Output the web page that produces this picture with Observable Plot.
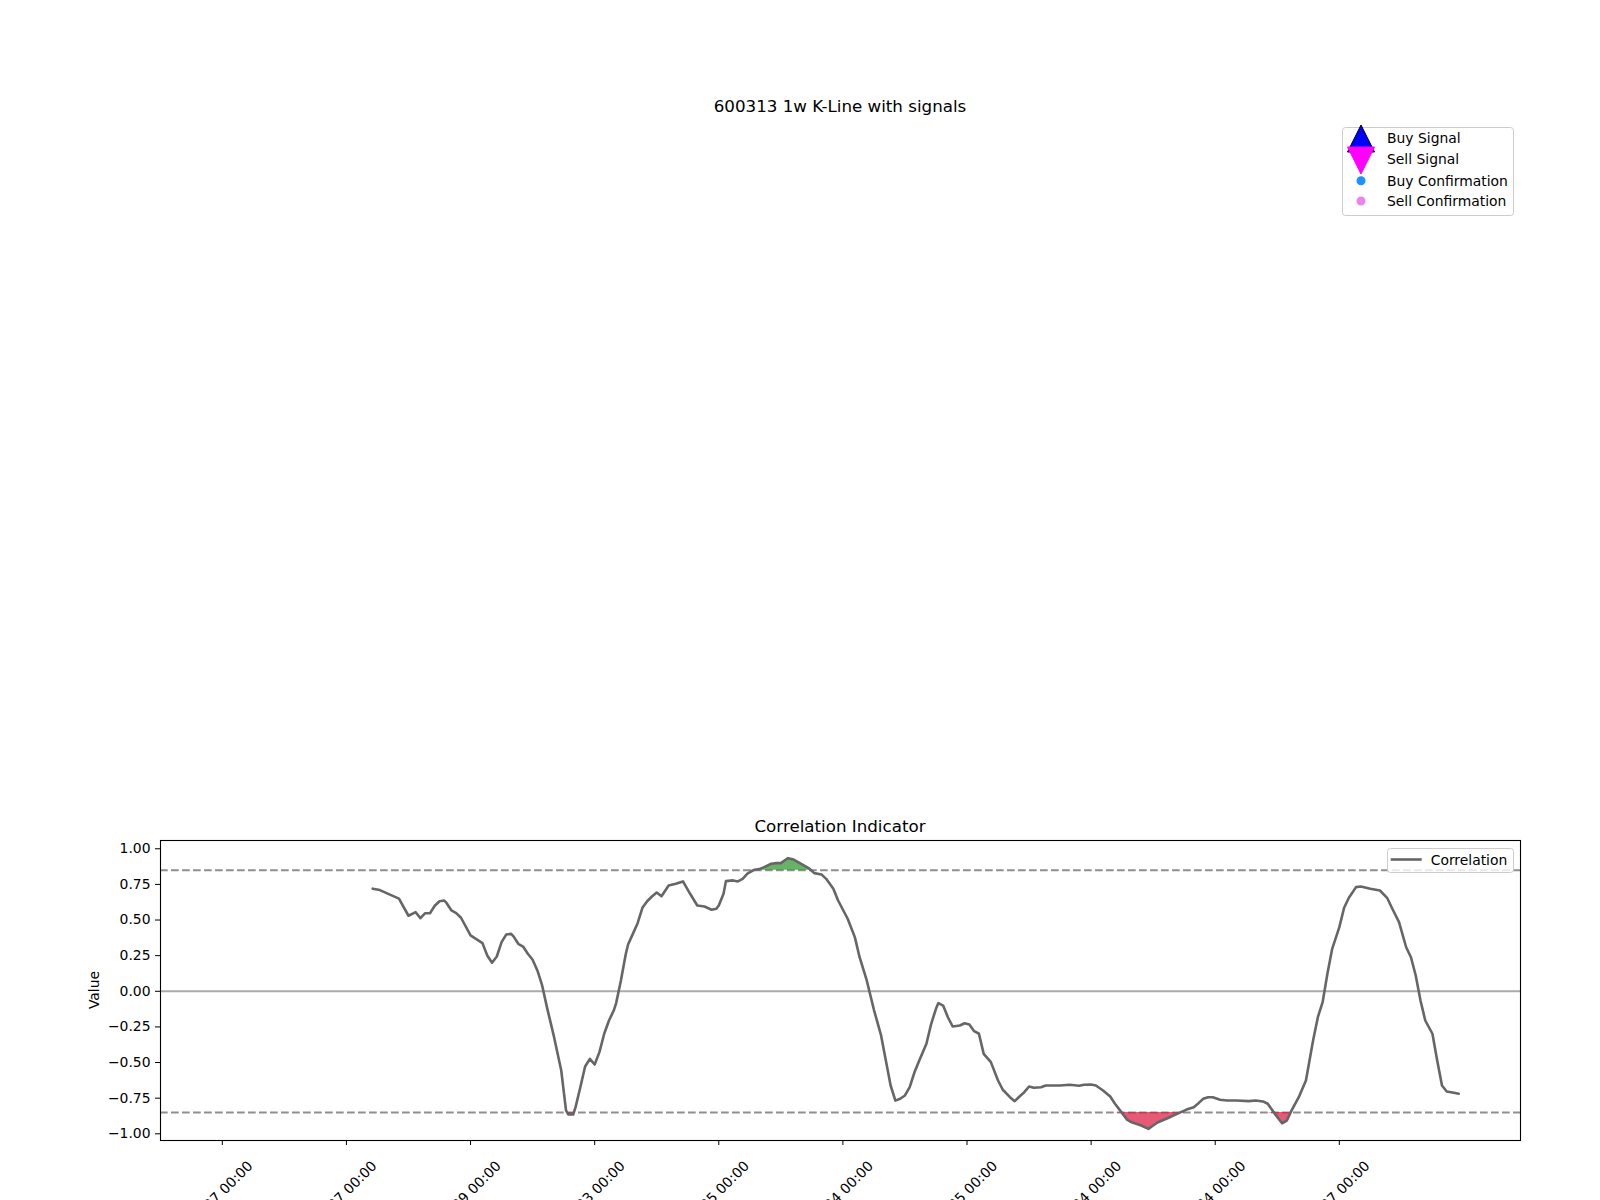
<!DOCTYPE html>
<html>
<head>
<meta charset="utf-8">
<script src="https://cdn.jsdelivr.net/npm/d3@7"></script>
<script src="https://cdn.jsdelivr.net/npm/@observablehq/plot@0.6"></script>
<style>
  html, body { margin: 0; padding: 0; background: #fff; overflow: hidden; }
  #fig { position: relative; width: 1600px; height: 1200px; background: #fff; font-family: "DejaVu Sans", sans-serif; color: #000; overflow: hidden; }
  .title { position: absolute; left: 160px; width: 1360px; text-align: center; font-size: 16.7px; line-height: normal; white-space: nowrap; }
  #plotwrap { position: absolute; left: 0; top: 800px; }
  .abs { position: absolute; overflow: visible; }
  #ylabel { position: absolute; font-size: 13.9px; left: 93.5px; top: 990px; transform: translate(-50%, -50%) rotate(-90deg); white-space: nowrap; }
</style>
</head>
<body>
<div id="fig">
  <div class="title" style="top:95.6px">600313 1w K-Line with signals</div>
  <svg class="abs" id="sigLegend" style="left:1342px; top:127px" width="172" height="89"></svg>
  <div class="title" style="top:816.2px">Correlation Indicator</div>
  <div id="plotwrap"></div>
  <div id="ylabel">Value</div>
  <svg class="abs" id="corrLegend" style="left:1387px; top:848px" width="127" height="25"></svg>
</div>
<script>
// ---- data (bar index, correlation value) ----
const barIndex = [63,66,74,78,81,83,85,87,89,91,93,94,96,98,100,104,109,111,113,115,117,119,121,122,124,126,128,130,132,134,136,139,142,144,145,147,148,150,152,154,156,158,160,162,164,165,167,169,170,172,174,176,178,180,182,184,187,190,193,196,199,202,205,207,208,210,211,214,216,218,220,223,225,227,230,232,234,236,237,239,242,246,248,251,253,256,258,262,265,267,270,273,276,278,280,282,284,286,288,290,292,295,297,299,300,302,304,306,309,311,313,315,317,319,322,325,327,330,332,334,336,338,340,343,345,351,355,359,361,364,366,369,372,374,377,379,381,385,388,390,392,396,400,404,407,409,411,413,415,418,421,425,430,433,436,438,441,444,446,448,451,454,455,457,459,461,463,465,468,470,472,475,477,481,485,488,490,493,496,498,500,502,504,507,509,511,513,516,518];
const correlation = [0.72,0.71,0.65,0.53,0.555,0.513,0.548,0.548,0.60,0.632,0.637,0.618,0.567,0.548,0.516,0.392,0.338,0.251,0.20,0.244,0.345,0.399,0.403,0.385,0.333,0.314,0.263,0.221,0.146,0.041,-0.111,-0.322,-0.556,-0.836,-0.865,-0.865,-0.813,-0.673,-0.528,-0.474,-0.514,-0.427,-0.298,-0.205,-0.135,-0.083,0.076,0.258,0.328,0.403,0.478,0.586,0.632,0.665,0.693,0.667,0.742,0.754,0.771,0.684,0.602,0.595,0.572,0.579,0.602,0.684,0.773,0.778,0.771,0.789,0.825,0.853,0.857,0.871,0.895,0.899,0.899,0.923,0.934,0.927,0.899,0.86,0.829,0.82,0.789,0.719,0.637,0.509,0.38,0.239,0.076,-0.13,-0.31,-0.486,-0.661,-0.767,-0.754,-0.731,-0.673,-0.568,-0.486,-0.368,-0.228,-0.123,-0.083,-0.10,-0.182,-0.247,-0.24,-0.224,-0.233,-0.28,-0.298,-0.439,-0.497,-0.626,-0.691,-0.743,-0.771,-0.738,-0.708,-0.668,-0.677,-0.673,-0.661,-0.661,-0.656,-0.663,-0.656,-0.654,-0.661,-0.696,-0.738,-0.789,-0.855,-0.90,-0.919,-0.942,-0.965,-0.942,-0.919,-0.891,-0.86,-0.83,-0.813,-0.785,-0.754,-0.743,-0.743,-0.761,-0.766,-0.766,-0.771,-0.766,-0.773,-0.789,-0.86,-0.926,-0.907,-0.836,-0.743,-0.626,-0.533,-0.345,-0.182,-0.076,0.123,0.298,0.45,0.586,0.656,0.731,0.735,0.719,0.707,0.656,0.586,0.485,0.309,0.239,0.111,-0.065,-0.205,-0.298,-0.486,-0.661,-0.703,-0.712,-0.719];
const lastBar = 518;
const xTickIndex = [0,52,104,156,208,260,312,364,416,468];
const xTickLabels = ["2015-03-27 00:00","2016-03-27 00:00","2017-03-29 00:00","2018-03-23 00:00","2019-03-25 00:00","2020-03-24 00:00","2021-03-25 00:00","2022-03-24 00:00","2023-03-24 00:00","2024-03-27 00:00"];
const yTicks = [-1,-0.75,-0.5,-0.25,0,0.25,0.5,0.75,1];
const upperThreshold = 0.85, lowerThreshold = -0.85;
const signalLegend = ["Buy Signal","Sell Signal","Buy Confirmation","Sell Confirmation"];
const seriesName = "Correlation";

const rows = barIndex.map((i, k) => ({i, v: correlation[k]}));
const labelOf = new Map(xTickIndex.map((v, k) => [v, xTickLabels[k]]));
const pad = lastBar * 0.05;
const fmt = d => d.toFixed(2).replace("-", "\u2212");

const chart = Plot.plot({
  width: 1600, height: 400,
  marginTop: 40, marginBottom: 60, marginLeft: 160, marginRight: 80,
  style: {fontFamily: "DejaVu Sans", fontSize: "13.9px", color: "#000", background: "transparent"},
  x: {type: "linear", domain: [-pad, lastBar + pad]},
  y: {domain: [-1.047, 1.058]},
  marks: [
    Plot.ruleY([0], {stroke: "#aaaaaa", strokeWidth: 2}),
    Plot.ruleY([upperThreshold, lowerThreshold], {stroke: "#8f8f8f", strokeWidth: 2, strokeDasharray: "7.7,3.3"}),
    Plot.areaY(rows, {x: "i", y1: () => upperThreshold, y2: d => Math.max(d.v, upperThreshold), fill: "#008000", fillOpacity: 0.6}),
    Plot.areaY(rows, {x: "i", y1: () => lowerThreshold, y2: d => Math.min(d.v, lowerThreshold), fill: "#dc143c", fillOpacity: 0.7}),
    Plot.lineY(rows, {x: "i", y: "v", stroke: "#666666", strokeWidth: 2.6, strokeLinejoin: "round"}),
    Plot.frame({stroke: "#000", strokeWidth: 1.1}),
    Plot.axisY({ticks: yTicks, tickFormat: fmt, tickSize: 5, tickPadding: 5, label: null, fontSize: 13.9}),
    Plot.axisX({ticks: xTickIndex, tickFormat: () => "", tickSize: 5, label: null}),
    Plot.axisX({ticks: xTickIndex, tickFormat: d => labelOf.get(d), tickSize: 0, tickPadding: 3, tickRotate: -45, label: null, fontSize: 13.9, dx: 28, dy: 20})
  ]
});
document.getElementById("plotwrap").appendChild(chart);

// ---- legends ----
const ns = "http://www.w3.org/2000/svg";
function el(parent, tag, attrs, text) {
  const e = document.createElementNS(ns, tag);
  for (const k in attrs) e.setAttribute(k, attrs[k]);
  if (text != null) e.textContent = text;
  parent.appendChild(e);
  return e;
}
const sl = document.getElementById("sigLegend");
el(sl, "rect", {x: 0.5, y: 0.5, width: 171, height: 88, rx: 3, fill: "#fff", "fill-opacity": 0.8, stroke: "#cccccc"});
el(sl, "polygon", {points: "19,-2 5.5,25 32.5,25", fill: "#0000ff", stroke: "#000", "stroke-width": 1});
el(sl, "polygon", {points: "5.5,20 32.5,20 19,47", fill: "#ff00ff", stroke: "#ff00ff", "stroke-width": 1});
el(sl, "circle", {cx: 19, cy: 53.7, r: 4.5, fill: "#1e90ff"});
el(sl, "circle", {cx: 19, cy: 74, r: 4.5, fill: "#ee82ee"});
const baselines = [16, 37, 58.7, 79];
signalLegend.forEach((t, k) => el(sl, "text", {x: 45, y: baselines[k], "font-family": "DejaVu Sans", "font-size": "13.9px", fill: "#000"}, t));

const cl = document.getElementById("corrLegend");
el(cl, "rect", {x: 0.5, y: 0.5, width: 126, height: 24, rx: 3, fill: "#fff", "fill-opacity": 0.8, stroke: "#cccccc"});
el(cl, "line", {x1: 3.7, x2: 34.7, y1: 11.5, y2: 11.5, stroke: "#666666", "stroke-width": 2.6});
el(cl, "text", {x: 43.7, y: 16.5, "font-family": "DejaVu Sans", "font-size": "13.9px", fill: "#000"}, seriesName);
</script>
</body>
</html>
